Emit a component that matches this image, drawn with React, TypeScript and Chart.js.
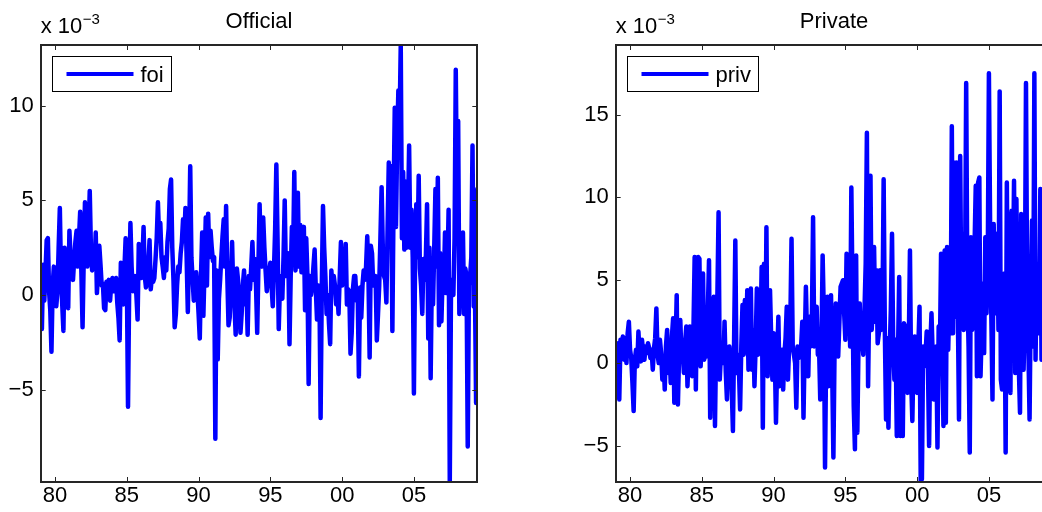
import React, { useEffect, useRef } from "react";
import { Chart, registerables } from "chart.js";
Chart.register(...registerables);

const FONT = "'Liberation Sans', Arial, Helvetica, sans-serif";
const START_YEAR = 1979;
const LAST_MONTH_INDEX = 365;
const X_MIN = START_YEAR;
const X_MAX = START_YEAR + LAST_MONTH_INDEX / 12;

const xTickYears = [1980, 1985, 1990, 1995, 2000, 2005];
const xTickLabels = ["80", "85", "90", "95", "00", "05"];
const foiYTicks = [-5, 0, 5, 10];
const privYTicks = [-5, 0, 5, 10, 15];
const foiRange = [-9.88, 13.21];
const privRange = [-7.18, 19.2];

// official (x 10^-3), monthly from 1979:01
const foiValues = [
  1.0, -1.8, 1.6, -0.3, 1.2, 2.9, 3.0, 0.2, -0.8, -3.0, 0.5, 1.5,
  0.8, -0.6, 0.2, 2.5, 4.6, 1.0, -0.5, -1.9, 2.5, 1.2, 0.3, -0.7,
  3.4, 2.0, 1.3, 0.8, 1.9, 2.8, 3.4, 1.5, 3.0, 4.4, 1.2, -1.7,
  2.0, 4.9, 3.0, 1.5, 3.2, 5.5, 2.4, 1.3, 2.2, 1.5, 3.3, 0.1,
  1.2, 2.6, 1.6, 0.5, 0.6, -0.7, -0.8, 0.7, 0.3, 0.8, -0.3, 0.6,
  0.9, 0.2, 0.7, 0.9, -0.4, -1.2, -2.4, 1.7, 0.5, -0.5, 1.4, 3.0,
  1.0, -5.9, 0.5, 3.8, 1.5, 0.2, 0.8, 1.0, 0.0, -1.3, 2.7, 1.5,
  0.9, 1.8, 3.6, 1.0, 0.4, 0.6, 1.6, 2.9, 0.3, 1.0, 0.7, 0.9,
  1.9, 3.0, 4.9, 3.0, 3.8, 2.0, 1.5, 0.9, 2.0, 1.3, 2.8, 3.5,
  5.6, 6.1, 2.5, 0.8, -1.7, -1.0, 0.5, 1.5, 1.2, 2.2, 2.8, 4.0,
  3.0, 4.6, 2.0, -0.9, 2.5, 6.8, 2.0, 0.8, -0.3, 0.5, 1.2, 0.2,
  -1.0, -2.3, 1.0, 3.3, -1.1, 1.5, 4.1, 0.5, 4.3, 2.0, 3.4, 2.5,
  1.8, 2.0, -7.6, 1.3, -3.4, -0.2, 0.8, 2.0, 3.1, 4.0, 1.5, 4.7,
  1.0, -1.6, -1.2, 0.5, 2.8, 0.2, -0.5, -2.1, 1.4, 0.8, -0.5, -2.0,
  -1.0, 0.5, 1.3, -0.5, 0.6, -2.1, 1.0, 0.3, 1.5, 2.8, 0.8, 1.9,
  0.5, -2.0, 1.5, 4.8, 2.2, 1.5, 4.1, 2.5, 1.3, 0.2, 0.8, 1.2,
  1.7, 0.5, -0.6, 1.3, 3.5, 6.9, 3.0, -1.8, 0.5, 1.0, -0.2, 2.0,
  5.0, 1.0, 2.0, 2.2, -2.6, 1.0, 3.6, 2.0, 6.5, 1.3, 3.0, 5.4,
  1.5, 3.7, 1.2, 2.5, 3.6, -0.8, 3.0, 1.0, -4.7, 1.0, 0.0, 0.5,
  1.5, 2.4, 0.3, -1.3, 0.5, 0.4, -6.5, 0.5, 4.7, 2.5, 1.0, -1.0,
  0.0, -1.5, -2.6, 1.3, 0.3, 1.0, 0.5, -0.5, 0.2, -1.0, 1.0, 2.8,
  0.5, 1.5, 0.8, 2.7, -0.5, 0.3, 0.2, -3.1, -2.0, 0.3, 1.0, 1.0,
  -0.3, 0.2, -4.3, 0.4, -1.2, 0.5, 1.3, 0.8, 1.5, 3.1, 1.0, -3.3,
  2.6, 2.2, 0.5, 0.8, 1.0, -2.4, -1.0, 0.5, 3.0, 5.7, 2.5, 1.0,
  0.8, -0.4, 3.5, 7.0, 3.5, 6.8, -1.9, 5.0, 9.9, 3.6, 8.0, 10.8,
  9.0, 13.21, 3.0, 6.5, 2.4, 6.0, 2.5, 4.0, 7.9, 2.5, 4.5, 2.0,
  -5.2, 2.0, 4.8, 2.0, 6.3, 1.4, 0.5, -1.0, 1.9, 0.8, 2.0, 4.8,
  -2.3, 2.5, -4.4, 1.0, -0.5, 2.5, 5.6, 1.5, 6.2, -1.6, 2.2, -1.4,
  1.0, 0.5, 3.3, 0.1, 1.0, 4.5, -9.88, 0.2, 0.8, 0.0, 3.0, 11.9,
  5.0, 9.2, -1.0, 1.0, 0.5, 3.3, -1.0, 1.4, 1.0, -8.0, 0.5, 1.0,
  2.0, 7.9, -0.6, 0.5, -5.7, 5.6,
];

// private (x 10^-3), monthly from 1979:01 (visible part)
const privValues = [
  0.8, -0.3, 1.2, -2.2, 1.4, 1.0, 1.6, 0.2, 1.5, 0.0, 1.8, 2.5,
  0.8, 0.3, -1.2, -2.9, 0.2, 0.8, -0.2, 1.9, 0.5, 0.1, 1.4, 0.6,
  0.2, 1.0, 0.6, 1.2, 0.9, 0.3, 0.8, -0.4, 0.9, 1.5, 3.3, 0.5,
  0.0, 1.4, 0.6, -1.0, 0.3, -1.6, 1.0, 2.0, -0.6, 0.8, -1.2, 1.6,
  2.7, -2.4, 0.8, 4.1, -2.5, 0.5, 2.6, 0.4, 0.8, -0.6, 1.2, 2.2,
  -1.4, 0.5, 2.2, 1.0, -0.8, 2.0, 6.4, -1.6, 4.0, 6.4, 6.3, -0.2,
  1.5, 5.4, 0.2, 1.5, 0.4, 3.0, 6.2, -3.3, 1.0, 2.5, 4.0, -3.8,
  1.5, 4.0, 9.1, -1.0, 0.6, 1.2, 0.0, 2.5, -0.5, -2.2, 0.3, 1.0,
  0.0, -1.5, -4.1, 1.5, 7.4, -0.6, 0.5, -0.3, -2.8, 1.0, 3.5, 0.5,
  3.8, 1.5, 4.4, -0.4, 1.5, 4.5, -0.4, 2.0, -1.4, 1.0, 4.5, 0.5,
  2.2, 1.0, 5.8, -3.9, 6.0, -0.5, 8.2, -0.8, 1.0, 4.4, 1.5, -1.0,
  1.8, 0.5, -3.6, 0.3, 2.8, -1.4, 0.4, 0.8, -1.6, 0.5, 1.5, 3.4,
  -1.0, 1.0, 2.5, 7.5, 1.0, 0.5, 0.0, -2.7, 1.0, 0.3, 0.5, 1.0,
  2.5, -3.3, 1.0, 4.6, 1.5, -0.8, 2.8, 1.0, 2.5, 8.8, 1.0, 2.8,
  3.4, 0.5, 1.0, -2.2, 1.0, 6.5, 3.0, -6.3, 1.0, 4.0, -1.4, 1.0,
  4.1, -0.5, -5.7, 1.0, 3.6, 0.8, 0.4, 2.5, 4.6, 4.8, 5.0, 3.0,
  1.4, 6.6, 3.0, 5.0, 1.0, 10.6, 4.0, -2.6, -5.2, 6.5, -4.2, 1.2,
  3.6, 1.0, 1.4, 0.5, 3.2, 6.0, 13.9, -1.4, 4.0, 11.3, 2.0, 3.4,
  7.0, 2.5, 5.6, 1.2, 1.8, 5.6, 2.0, 3.0, 11.1, 2.0, -3.4, 1.5,
  -3.9, 0.5, 3.2, 7.8, 1.0, -1.0, 1.4, -4.4, 0.5, 5.2, -4.4, 0.5,
  -4.4, 2.4, 2.2, -0.5, -1.8, 1.0, 6.8, -1.0, -3.5, 0.5, 1.6, -0.5,
  -1.8, 1.0, 3.4, -7.18, -7.0, 1.0, -0.2, 0.5, 1.9, 0.0, -5.0, 1.0,
  3.0, 0.5, -2.2, -0.6, 1.0, -5.1, 2.2, 0.5, 6.6, 1.0, -3.8, 6.8,
  -3.6, 7.0, 0.8, 4.2, 1.8, 14.3, 1.8, 12.1, 2.8, 12.1, 3.4, -3.4,
  12.5, 3.0, 7.8, 2.0, 4.2, 16.9, 4.4, 1.0, -5.4, 7.6, 2.0, 3.2,
  7.0, 10.7, -0.8, 10.9, 11.2, -0.8, 2.0, 4.8, 0.6, 7.6, 3.0, 5.4,
  17.5, 8.4, 3.0, -2.2, 8.4, 3.0, 7.8, 7.6, 2.0, 16.4, -1.0, -1.6,
  2.0, 5.4, -5.4, 10.9, 0.2, 9.0, -1.8, 9.2, 4.0, 11.0, -0.6, 9.9,
  2.0, -0.2, -3.0, 9.0, 8.6, -0.4, 3.0, 16.9, 3.8, 1.0, -3.4, 4.0,
  8.6, 1.0, 17.5, 0.2, 6.0, 1.8, 2.4, 10.5, 0.2, 0.5,
];

const decorPlugin = {
  id: "matlabDecor",
  afterDraw(chart: any, _args: any, opts: any) {
    const { ctx, chartArea: a, scales } = chart;
    const xs = scales.x;
    const ys = scales.y;
    ctx.save();

    // frame
    ctx.strokeStyle = "#262626";
    ctx.lineWidth = 2;
    ctx.strokeRect(Math.round(a.left), Math.round(a.top), Math.round(a.right) - Math.round(a.left), Math.round(a.bottom) - Math.round(a.top));

    // inward tick marks
    const TL = 5;
    ctx.lineWidth = 1;
    ctx.beginPath();
    for (const v of xTickYears) {
      const px = Math.round(xs.getPixelForValue(v)) + 0.5;
      ctx.moveTo(px, a.bottom);
      ctx.lineTo(px, a.bottom - TL);
      ctx.moveTo(px, a.top);
      ctx.lineTo(px, a.top + TL);
    }
    for (const v of opts.yTicks) {
      const py = Math.round(ys.getPixelForValue(v)) + 0.5;
      ctx.moveTo(a.left, py);
      ctx.lineTo(a.left + TL, py);
      ctx.moveTo(a.right, py);
      ctx.lineTo(a.right - TL, py);
    }
    ctx.stroke();

    // title
    ctx.fillStyle = "#000";
    ctx.font = `22px ${FONT}`;
    ctx.textAlign = "center";
    ctx.textBaseline = "alphabetic";
    ctx.fillText(opts.title, (a.left + a.right) / 2, 27.5);

    // exponent label
    ctx.textAlign = "left";
    const base = "x 10";
    ctx.fillText(base, a.left, 33.3);
    const bw = ctx.measureText(base).width;
    ctx.font = `15px ${FONT}`;
    ctx.fillText("\u22123", a.left + bw + 0.5, 23.5);

    // legend
    ctx.font = `22px ${FONT}`;
    const tw = ctx.measureText(opts.label).width;
    const bx = Math.round(a.left + 11) + 0.5;
    const by = Math.round(a.top + 11) + 0.5;
    const bh = 35;
    const boxW = Math.round(14 + 67 + 7 + tw + 8);
    ctx.fillStyle = "#fff";
    ctx.fillRect(bx, by, boxW, bh);
    ctx.strokeStyle = "#000";
    ctx.lineWidth = 1;
    ctx.strokeRect(bx, by, boxW, bh);
    ctx.strokeStyle = "#0000ff";
    ctx.lineWidth = 4;
    ctx.beginPath();
    ctx.moveTo(bx + 14, by + bh / 2);
    ctx.lineTo(bx + 14 + 67, by + bh / 2);
    ctx.stroke();
    ctx.fillStyle = "#000";
    ctx.textBaseline = "alphabetic";
    ctx.fillText(opts.label, bx + 14 + 67 + 7, by + 25.5);

    ctx.restore();
  },
};

function buildConfig(p: {
  values: number[];
  range: number[];
  yTicks: number[];
  title: string;
  label: string;
  yAxisWidth: number;
  padRight: number;
}) {
  const points = p.values.map((v, i) => ({ x: START_YEAR + i / 12, y: v }));
  return {
    type: "line" as const,
    data: {
      datasets: [
        {
          label: p.label,
          data: points,
          borderColor: "#0000ff",
          borderWidth: 4.5,
          pointRadius: 0,
          pointHoverRadius: 0,
          fill: false,
          tension: 0,
          borderJoinStyle: "round" as const,
          borderCapStyle: "round" as const,
          clip: 0,
        },
      ],
    },
    options: {
      animation: false as const,
      responsive: false,
      maintainAspectRatio: false,
      devicePixelRatio: 1,
      events: [],
      layout: { padding: { left: 0, top: 45, right: p.padRight, bottom: 0 } },
      plugins: {
        legend: { display: false },
        title: { display: false },
        tooltip: { enabled: false },
        matlabDecor: { title: p.title, label: p.label, yTicks: p.yTicks },
      },
      scales: {
        x: {
          type: "linear" as const,
          min: X_MIN,
          max: X_MAX,
          afterBuildTicks: (s: any) => {
            s.ticks = xTickYears.map((v) => ({ value: v }));
          },
          afterFit: (s: any) => {
            s.height = 30;
          },
          grid: { display: false, drawTicks: false },
          border: { display: false },
          ticks: {
            autoSkip: false,
            maxRotation: 0,
            padding: 1,
            color: "#000",
            font: { family: FONT, size: 22 },
            callback: (v: any) => xTickLabels[xTickYears.indexOf(Number(v))] ?? "",
          },
        },
        y: {
          type: "linear" as const,
          min: p.range[0],
          max: p.range[1],
          afterBuildTicks: (s: any) => {
            s.ticks = p.yTicks.map((v) => ({ value: v }));
          },
          afterFit: (s: any) => {
            s.width = p.yAxisWidth;
          },
          grid: { display: false, drawTicks: false },
          border: { display: false },
          ticks: {
            padding: 7,
            color: "#000",
            font: { family: FONT, size: 22 },
            callback: (v: any) => (Number(v) < 0 ? "\u2212" + Math.abs(Number(v)) : String(v)),
          },
        },
      },
    },
    plugins: [decorPlugin],
  };
}

export default function App() {
  const leftRef = useRef<HTMLCanvasElement>(null);
  const rightRef = useRef<HTMLCanvasElement>(null);

  useEffect(() => {
    const c1 = new Chart(
      leftRef.current as HTMLCanvasElement,
      buildConfig({
        values: foiValues,
        range: foiRange,
        yTicks: foiYTicks,
        title: "Official",
        label: "foi",
        yAxisWidth: 40.7,
        padRight: 521 - 477.3,
      }) as any
    );
    const c2 = new Chart(
      rightRef.current as HTMLCanvasElement,
      buildConfig({
        values: privValues,
        range: privRange,
        yTicks: privYTicks,
        title: "Private",
        label: "priv",
        yAxisWidth: 55.7,
        padRight: 500 - 492.3,
      }) as any
    );
    return () => {
      c1.destroy();
      c2.destroy();
    };
  }, []);

  return (
    <div
      style={{
        position: "fixed",
        left: 0,
        top: 0,
        width: 1042,
        height: 512,
        overflow: "hidden",
        background: "#fff",
      }}
    >
      <canvas
        ref={leftRef}
        width={521}
        height={512}
        style={{ position: "absolute", left: 0, top: 0, width: 521, height: 512 }}
      />
      <canvas
        ref={rightRef}
        width={500}
        height={512}
        style={{ position: "absolute", left: 560, top: 0, width: 500, height: 512 }}
      />
    </div>
  );
}
